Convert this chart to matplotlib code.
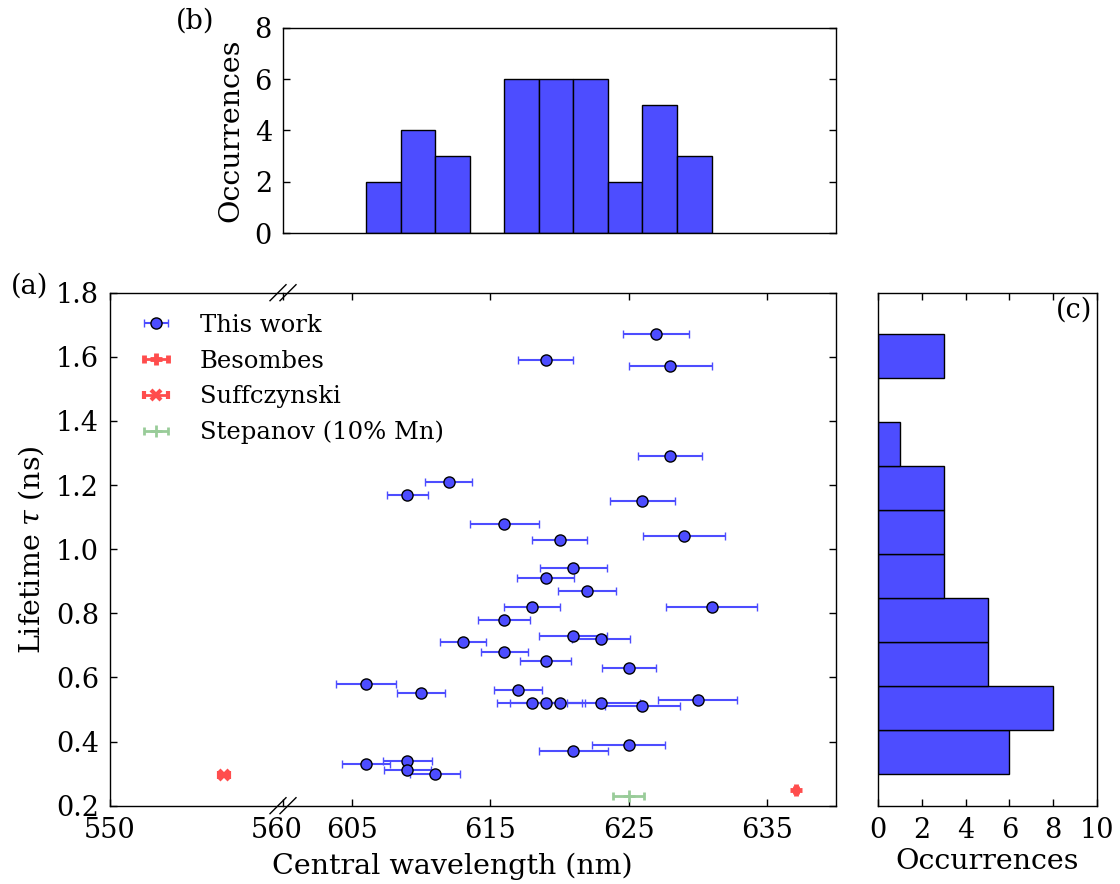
import numpy as np
import matplotlib
matplotlib.use("Agg")
import matplotlib.pyplot as plt
from matplotlib.lines import Line2D
from matplotlib.transforms import ScaledTranslation

plt.rcParams['font.family'] = ['DejaVu Serif']
plt.rcParams['mathtext.fontset'] = 'dejavuserif'
FS = 19.5
LFS = 20.5
plt.rcParams['font.size'] = FS

# ---------------- data ----------------
wl_this = [619, 612, 609, 616, 620, 627, 628, 628, 626, 629, 621, 619, 622, 618,
           616, 621, 623, 613, 616, 619, 625, 606, 610, 617, 618, 619, 620, 623,
           626, 630, 631, 621, 625, 606, 609, 609, 611]
tau_this = [1.59, 1.21, 1.17, 1.08, 1.03, 1.67, 1.57, 1.29, 1.15, 1.04, 0.94, 0.91,
            0.87, 0.82, 0.78, 0.73, 0.72, 0.71, 0.68, 0.65, 0.63, 0.58, 0.55, 0.56,
            0.52, 0.52, 0.52, 0.52, 0.51, 0.53, 0.82, 0.37, 0.39, 0.33, 0.34, 0.31, 0.30]
wlerr_this = [2.0, 1.7, 1.5, 2.5, 2.0, 2.4, 3.0, 2.3, 2.35, 2.95, 2.4, 2.05, 2.1, 2.05,
              1.9, 2.45, 2.1, 1.65, 1.7, 1.85, 1.95, 2.2, 1.75, 1.75, 2.55, 2.6, 1.85,
              2.85, 2.7, 2.85, 3.3, 2.5, 2.65, 1.75, 1.75, 1.7, 1.8]

wl_besombes = [637.1]
tau_besombes = [0.25]
wlerr_besombes = [0.1]

wl_suff = [556.6]
tau_suff = [0.295]
wlerr_suff = [0.3]

wl_stepanov = [625.0]
tau_stepanov = [0.23]
wlerr_stepanov = [1.13]

n_bins = 10

# ---------------- style ----------------
blue = (0.3, 0.3, 1.0)
red = (1.0, 0.3, 0.3)
green = (0.6, 0.8, 0.6)

W, H = 1120, 884
fig = plt.figure(figsize=(W / 100, H / 100), dpi=100)


def fax(x0, y0, x1, y1):
    return [x0 / W, 1 - y1 / H, (x1 - x0) / W, (y1 - y0) / H]


xb = 283
top, bot = 292.7, 805.7
axL = fig.add_axes(fax(110, top, xb, bot))
axR = fig.add_axes(fax(xb, top, 836, bot))
axT = fig.add_axes(fax(xb, 28, 836, 233))
axC = fig.add_axes(fax(878, top, 1097, bot))

for ax in (axL, axR, axT, axC):
    ax.tick_params(direction='in', length=5, width=1, labelsize=FS, pad=8)
    for s in ax.spines.values():
        s.set_linewidth(1.0)

ebkw = dict(fmt='o', color=blue, ecolor=blue, mfc=blue, mec='k', mew=1,
            ms=8, elinewidth=1.5, capsize=3, capthick=1.5)
for ax in (axL, axR):
    h1 = ax.errorbar(wl_this, tau_this, xerr=wlerr_this, **ebkw)
    h2 = ax.errorbar(wl_besombes, tau_besombes, xerr=wlerr_besombes, fmt='+',
                     color=red, ecolor=red, ms=9, mew=3.5, elinewidth=2,
                     capsize=3, capthick=2)
    h3 = ax.errorbar(wl_suff, tau_suff, xerr=wlerr_suff, fmt='x', color=red,
                     ecolor=red, ms=7, mew=3, elinewidth=2, capsize=3, capthick=2)
    h4 = ax.errorbar(wl_stepanov, tau_stepanov, xerr=wlerr_stepanov, fmt='+',
                     color=green, ecolor=green, ms=8, mew=2, elinewidth=2,
                     capsize=3, capthick=2)
    ax.set_ylim(0.2, 1.8)

axL.set_xlim(550, 560)
axR.set_xlim(600, 640)
axL.set_xticks([550, 560])
axR.set_xticks([605, 615, 625, 635])
axL.set_yticks(np.arange(0.2, 1.81, 0.2))
axR.set_yticks(np.arange(0.2, 1.81, 0.2))
axL.yaxis.set_major_formatter(matplotlib.ticker.FormatStrFormatter('%.1f'))
axL.spines['right'].set_visible(False)
axR.spines['left'].set_visible(False)
axL.tick_params(top=True, right=False, left=True, bottom=True)
axR.tick_params(top=True, right=True, left=False, labelleft=False, bottom=True)
axR.patch.set_alpha(0)
axL.set_ylabel(r'Lifetime $\tau$ (ns)', fontsize=LFS, labelpad=7)
fig.text(452 / W, 1 - 866 / H, 'Central wavelength (nm)', ha='center', va='center',
         fontsize=LFS)

# shift the "560" label slightly left, as in the reference
fig.canvas.draw()
lab560 = axL.get_xticklabels()[1]
lab560.set_transform(lab560.get_transform() +
                     ScaledTranslation(-6 / 100, 0, fig.dpi_scale_trans))

# break marks
for yy in (top, bot):
    for dx in (-5, 5):
        fig.add_artist(Line2D([(xb + dx - 8) / W, (xb + dx + 8) / W],
                              [1 - (yy + 8) / H, 1 - (yy - 8) / H],
                              transform=fig.transFigure, color='k', lw=1.0))

fig.legend([h1, h2, h3, h4],
           ['This work', 'Besombes', 'Suffczynski', 'Stepanov (10% Mn)'],
           loc='upper left', bbox_to_anchor=(143 / W, 1 - 314 / H),
           frameon=False, numpoints=1, handlelength=1.05, handletextpad=1.3,
           labelspacing=0.52, borderpad=0, borderaxespad=0, fontsize=17.5)

# top histogram
axT.hist(wl_this, bins=n_bins, color=blue, edgecolor='k', linewidth=1)
axT.set_xlim(600, 640)
axT.set_ylim(0, 8)
axT.set_yticks([0, 2, 4, 6, 8])
axT.set_xticks([])
axT.tick_params(right=True, left=True)
axT.set_ylabel('Occurrences', fontsize=LFS, labelpad=7)

# right histogram
axC.hist(tau_this, bins=n_bins, orientation='horizontal', color=blue,
         edgecolor='k', linewidth=1)
axC.set_ylim(0.2, 1.8)
axC.set_xlim(0, 10)
axC.set_xticks([0, 2, 4, 6, 8, 10])
axC.set_yticks([])
axC.tick_params(top=True, bottom=True)
axC.set_xlabel('Occurrences', fontsize=LFS, labelpad=3)

fig.text(30 / W, 1 - 286 / H, '(a)', ha='center', va='center', fontsize=FS)
fig.text(195 / W, 1 - 21 / H, '(b)', ha='center', va='center', fontsize=FS)
fig.text(1074 / W, 1 - 310 / H, '(c)', ha='center', va='center', fontsize=FS)

fig.savefig('out.png', dpi=100)
